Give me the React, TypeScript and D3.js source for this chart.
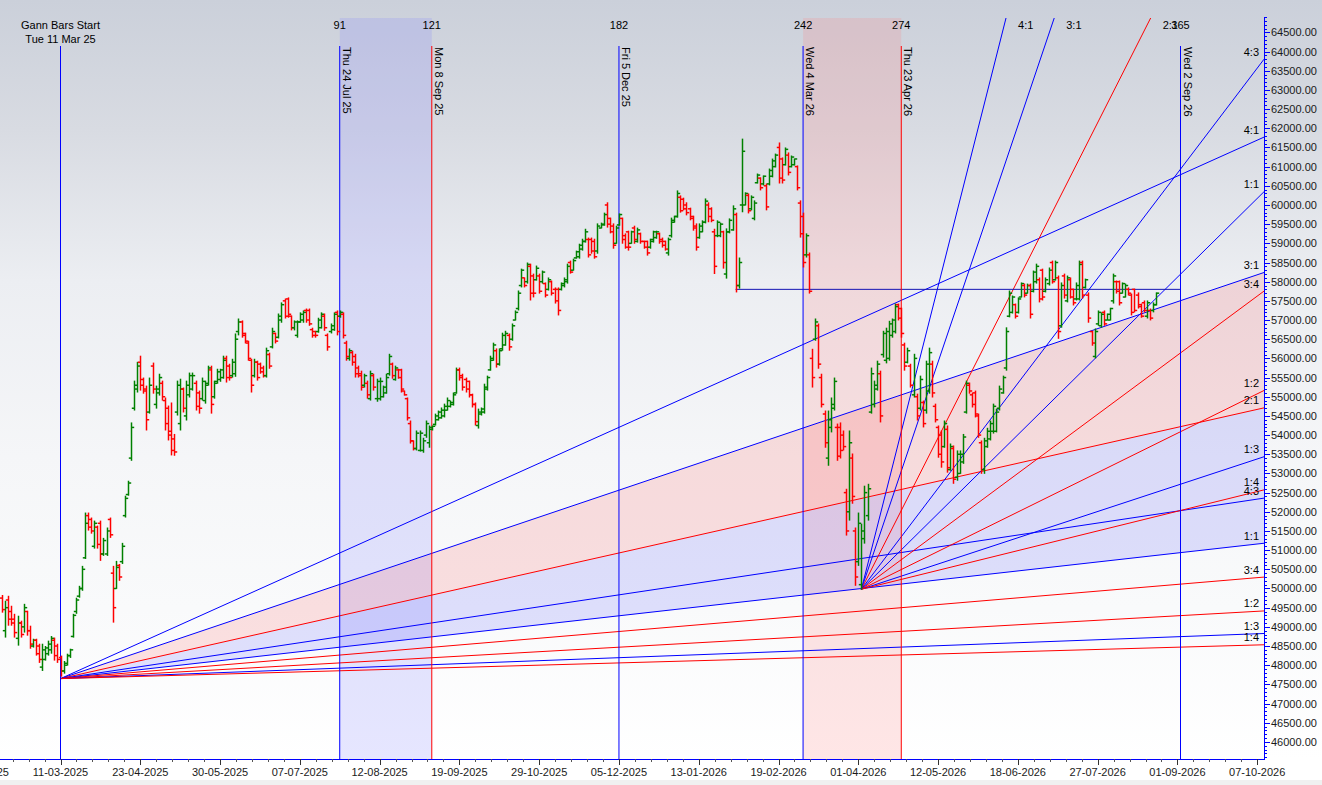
import * as d3 from 'd3'

const W = 1322
const H = 785
const PLOT = { left: 0, top: 18, right: 1264, bottom: 759 }

const BLUE = '#0000ff'
const RED = '#ff0000'
const UP = '#008000'

// daily OHLC bars [open, high, low, close]; first row is bar -19 (bar 0 = Tue 11 Mar 25)
const FIRST_BAR = -19
const bars: [number, number, number, number][] = [
  [49750, 49830, 49370, 49450], [48900, 49680, 48720, 49500], [49700, 49810, 49030, 49200], [49400, 49550, 49030, 49100],
  [49200, 49340, 48720, 48850], [48700, 49290, 48510, 49100], [49100, 49160, 48720, 48800], [49000, 49600, 48850, 49500],
  [49400, 49420, 48770, 48900], [48900, 49030, 48430, 48550], [48500, 48690, 48460, 48650], [48650, 48690, 48250, 48300],
  [48500, 48560, 48060, 48150], [47950, 48560, 47850, 48400], [48150, 48500, 48120, 48450], [48300, 48640, 48250, 48550],
  [48400, 48760, 48300, 48700], [48650, 48720, 48120, 48250], [48500, 48560, 48060, 48150],
  // bar 0
  [48200, 48250, 47700, 47850], [47850, 48110, 47780, 48000], [48050, 48300, 47990, 48250], [48250, 48430, 48190, 48400],
  [48750, 49340, 48720, 49300], [49400, 49760, 49340, 49700], [49800, 50070, 49760, 50000], [50000, 50590, 49940, 50500],
  [50800, 51980, 50770, 51700], [51900, 51980, 51510, 51600], [51800, 51850, 51430, 51500], [51100, 51770, 51040, 51700],
  [51600, 51640, 51040, 51150], [51700, 51770, 50720, 50900], [50900, 51320, 50850, 51250], [50900, 51590, 50850, 51500],
  [51800, 51850, 51320, 51400], [50400, 50590, 49110, 49500], [50000, 50720, 49990, 50550], [50600, 50640, 50200, 50300],
  [50700, 51190, 50640, 51100], [51900, 52420, 51850, 52350], [52450, 52810, 52420, 52750], [53400, 54330, 53330, 54200],
  [54700, 55420, 54640, 55300], [55200, 55910, 55110, 55800], [55900, 56070, 55160, 55300], [55450, 55500, 55080, 55150],
  [55200, 55290, 54120, 54400], [54600, 55500, 54560, 55300], [55800, 55890, 55080, 55200], [54800, 55290, 54690, 55200],
  [55100, 55600, 55030, 55500], [55350, 55420, 54900, 55000], [54900, 54980, 54120, 54300], [54700, 54770, 53860, 54000],
  [54100, 54850, 53470, 53600], [53900, 54030, 53460, 53560], [54600, 55420, 54510, 55300], [54300, 55470, 54120, 55200],
  [55200, 55240, 54590, 54700], [54500, 55420, 54380, 55300], [55050, 55630, 54980, 55550], [55200, 55630, 55160, 55550],
  [55350, 55420, 54640, 54750], [55100, 55160, 54560, 54700], [54950, 55500, 54900, 55400], [54900, 55420, 54820, 55300],
  [55350, 55810, 55290, 55750], [55700, 55810, 54560, 54800], [55000, 55420, 54950, 55350], [55400, 55730, 55340, 55650],
  [55450, 55730, 55390, 55700], [55500, 56070, 55470, 55950], [56000, 56070, 55370, 55500], [55800, 55860, 55420, 55500],
  [55550, 55990, 55500, 55900], [55600, 56650, 55520, 56500], [56700, 57040, 56600, 56950], [56950, 56990, 56540, 56600],
  [56650, 56670, 56390, 56450], [56400, 56460, 55940, 56000], [55950, 55990, 55110, 55300], [55550, 55990, 55500, 55900],
  [55900, 55940, 55420, 55500], [55850, 55890, 55600, 55650], [55750, 55810, 55500, 55550], [55550, 56280, 55500, 56200],
  [56100, 56150, 55730, 55800], [56300, 56800, 56260, 56700], [56650, 56670, 56390, 56450], [56550, 57170, 56520, 57100],
  [57000, 57460, 56930, 57400], [57500, 57560, 57040, 57100], [57550, 57590, 57060, 57150], [57100, 57120, 56730, 56800],
  [56800, 56990, 56730, 56950], [56600, 56990, 56540, 56950], [56950, 57200, 56930, 57150], [57000, 57250, 56930, 57200],
  [57250, 57300, 56930, 57000], [57250, 57300, 56850, 56900], [56750, 56800, 56540, 56600], [56700, 56720, 56540, 56600],
  [56700, 57060, 56670, 57000], [56800, 57200, 56780, 57150], [57100, 57170, 56720, 56800], [56600, 56650, 56200, 56300],
  [56700, 56910, 56650, 56850], [56750, 57200, 56720, 57150], [57200, 57250, 56600, 56700], [57100, 57250, 57060, 57200],
  [57150, 57200, 56520, 56600], [56400, 56460, 55940, 56050], [56000, 56260, 55940, 56200], [56150, 56200, 55810, 55900],
  [56050, 56120, 55500, 55600], [55750, 55810, 55500, 55550], [55600, 55680, 55160, 55250], [55300, 55600, 55240, 55550],
  [55350, 55420, 54950, 55050], [54950, 55680, 54900, 55600], [55550, 55600, 55160, 55250], [54950, 55470, 54870, 55400],
  [54950, 55500, 54900, 55400], [55000, 55290, 54980, 55250], [55100, 55600, 55080, 55500], [55600, 56120, 55550, 56050],
  [55850, 55890, 55470, 55550], [55450, 55810, 55420, 55750], [55700, 55730, 55470, 55500], [55700, 55730, 55110, 55200],
  [55150, 55160, 55030, 55050], [54950, 54980, 54380, 54450], [54300, 54380, 53780, 53850], [53850, 53860, 53600, 53650],
  [53650, 54120, 53600, 54050], [53600, 54120, 53570, 54050], [53600, 53930, 53540, 53850], [54000, 54380, 53930, 54300],
  [53800, 54250, 53670, 54200], [54150, 54250, 54120, 54230], [54280, 54560, 54250, 54500], [54400, 54640, 54380, 54600],
  [54450, 54720, 54430, 54650], [54500, 54820, 54460, 54750], [54650, 54980, 54640, 54900], [54750, 54900, 54720, 54850],
  [54800, 55110, 54770, 55050], [55100, 55760, 55080, 55700], [55700, 55760, 55420, 55500], [55550, 55600, 55160, 55250],
  [55450, 55500, 55110, 55200], [55400, 55420, 54980, 55050], [55050, 55080, 54720, 54800], [54800, 54850, 54250, 54350],
  [54250, 54690, 54170, 54600], [54550, 54720, 54510, 54680], [54600, 55340, 54560, 55250], [55200, 55550, 55160, 55500],
  [55700, 56070, 55680, 56000], [55950, 56410, 55940, 56350], [56200, 56260, 55760, 55850], [55850, 56260, 55810, 56200],
  [56250, 56670, 56200, 56600], [56350, 56720, 56330, 56650], [56600, 56650, 56200, 56300], [56500, 56910, 56460, 56850],
  [57000, 57250, 56990, 57200], [57300, 57770, 57250, 57700], [57900, 58340, 57850, 58300], [58100, 58110, 57850, 57900],
  [58000, 58500, 57950, 58450], [58400, 58470, 57510, 57700], [58150, 58210, 57590, 57700], [58050, 58420, 58030, 58350],
  [58150, 58210, 57690, 57750], [58000, 58290, 57950, 58250], [57950, 57980, 57590, 57650], [57800, 58110, 57770, 58050],
  [58000, 58030, 57640, 57700], [57800, 57850, 57430, 57500], [57800, 57850, 57120, 57250], [57800, 57980, 57770, 57950],
  [57900, 58110, 57850, 58050], [58000, 58470, 57950, 58400], [58500, 58550, 58210, 58250], [58300, 58600, 58290, 58550],
  [58620, 58810, 58600, 58780], [58650, 58990, 58600, 58950], [58850, 59120, 58810, 59050], [59050, 59380, 59020, 59300],
  [59100, 59150, 58630, 58700], [59100, 59150, 58730, 58800], [59050, 59120, 58600, 58650], [58800, 59520, 58730, 59450],
  [59400, 59540, 59390, 59500], [59480, 59800, 59460, 59750], [60000, 60070, 59410, 59500], [59650, 59670, 59260, 59300],
  [59450, 59520, 58860, 58950], [59000, 59460, 58990, 59400], [59480, 59780, 59460, 59750], [59650, 59670, 58990, 59100],
  [59200, 59260, 58860, 58900], [59300, 59330, 58810, 58900], [59000, 59330, 58990, 59300], [59400, 59460, 58990, 59100],
  [59050, 59410, 59020, 59350], [59250, 59280, 58990, 59050], [59050, 59070, 58860, 58900], [59050, 59070, 58680, 58750],
  [58900, 59120, 58860, 59100], [59050, 59330, 59020, 59300], [59150, 59330, 59120, 59300], [59250, 59280, 58990, 59050],
  [59100, 59150, 58890, 58950], [59050, 59070, 58810, 58850], [58750, 59150, 58680, 59100], [59200, 59670, 59150, 59600],
  [59550, 59720, 59540, 59700], [59700, 60380, 59670, 60300], [60200, 60250, 59800, 59850], [60150, 60190, 59860, 59900],
  [60000, 60070, 59730, 59800], [59900, 59930, 59600, 59650], [59700, 59720, 59330, 59400], [59450, 59520, 58810, 58900],
  [59150, 59520, 59120, 59450], [59300, 59600, 59290, 59550], [59550, 60170, 59520, 60100], [60000, 60070, 59550, 59700],
  [59900, 59940, 59550, 59600], [59300, 59380, 58200, 58400], [59200, 59600, 59160, 59550], [59200, 59540, 59160, 59500],
  [59300, 59330, 58340, 58500], [58200, 59390, 58080, 59300], [59300, 59650, 59260, 59600], [59350, 59990, 59330, 59900],
  [59750, 59800, 57720, 57900], [57900, 58630, 57820, 58500], [60000, 61730, 59810, 61400], [60000, 60330, 59990, 60300],
  [60250, 60300, 59780, 59850], [59900, 60250, 59860, 60200], [59650, 60120, 59600, 60050], [60580, 60820, 60560, 60780],
  [60700, 60720, 60380, 60450], [60550, 60770, 60510, 60750], [60500, 60560, 59860, 59950], [60550, 60950, 60510, 60900],
  [60750, 61210, 60720, 61150], [61000, 61340, 60980, 61300], [61500, 61630, 60560, 60700], [61200, 61240, 60560, 60650],
  [61050, 61500, 61030, 61450], [61300, 61370, 60770, 60850], [61000, 61290, 60980, 61250], [61050, 61210, 61030, 61200],
  [61000, 61030, 60380, 60450], [60050, 60120, 59150, 59250], [59700, 59800, 58370, 58500], [58700, 59260, 58630, 59200],
  [58700, 58760, 57690, 57750], [56000, 56250, 55240, 55500], [56500, 57040, 56460, 56950], [56850, 56910, 55730, 55850],
  [55500, 55600, 54720, 54800], [54550, 54640, 53670, 53800], [53400, 54640, 53200, 54400], [54200, 54980, 54070, 54800],
  [54700, 55500, 54640, 55400], [54200, 54300, 53330, 53450], [54200, 54330, 53390, 53600], [54000, 54120, 53600, 53700],
  [52500, 52600, 51380, 51500], [52000, 54120, 51770, 53800], [53400, 53520, 52210, 52400], [51500, 51590, 50070, 50300],
  [50700, 51980, 50590, 51700], [50100, 51690, 49970, 51500], [51300, 52680, 51170, 52500], [51900, 52730, 51770, 52600],
  [54600, 55760, 54560, 55600], [54800, 55420, 54720, 55300], [55200, 55940, 55160, 55850], [55600, 55680, 54330, 54500],
  [56100, 56720, 56020, 56650], [55950, 56800, 55870, 56700], [56000, 56980, 55940, 56900], [56600, 57040, 56540, 57000],
  [56700, 57430, 56650, 57350], [57400, 57430, 56990, 57050], [57300, 57320, 56540, 56650], [56350, 56410, 55680, 55800],
  [55900, 56280, 55870, 56200], [55800, 55860, 55240, 55300], [55050, 56120, 54980, 56000], [55000, 55080, 54380, 54500],
  [54700, 55550, 54640, 55450], [54850, 54900, 54200, 54300], [54650, 55940, 54560, 55850], [55150, 56280, 55080, 56150],
  [55850, 55940, 54980, 55100], [54750, 54820, 54330, 54400], [54200, 54250, 53410, 53500], [54000, 54120, 53150, 53300],
  [53700, 54380, 53670, 54300], [54150, 54250, 53020, 53150], [53100, 53780, 53070, 53700], [53650, 53730, 52730, 52850],
  [52900, 53600, 52810, 53500], [53000, 53600, 52990, 53500], [53300, 54030, 53250, 53950], [54600, 55420, 54560, 55350],
  [55300, 55370, 55080, 55150], [55050, 55110, 54720, 54800], [55100, 55160, 54460, 54550], [54500, 54560, 53930, 54000],
  [53800, 53860, 52990, 53100], [53100, 53930, 52990, 53850], [53700, 54190, 53670, 54100], [53900, 54380, 53860, 54300],
  [54100, 54820, 54040, 54750], [54100, 54690, 54070, 54600], [54700, 55290, 54640, 55200], [55100, 55550, 55080, 55500],
  [55750, 56810, 55680, 56700], [57100, 57770, 57070, 57700], [57200, 57640, 57170, 57600], [57400, 57430, 57040, 57100],
  [57200, 57590, 57170, 57550], [57600, 57980, 57590, 57950], [57900, 57950, 57590, 57650], [57700, 57950, 57690, 57900],
  [57900, 57950, 57040, 57150], [57750, 58290, 57720, 58250], [58000, 58470, 57950, 58400], [58050, 58110, 57460, 57550],
  [58300, 58340, 57510, 57600], [57750, 58110, 57720, 58050], [57950, 58370, 57900, 58300], [58500, 58550, 57950, 58000],
  [58050, 58550, 58030, 58500], [58100, 58160, 56510, 56700], [56850, 57980, 56800, 57900], [58150, 58210, 57560, 57650],
  [57500, 58160, 57460, 58100], [58050, 58110, 57560, 57600], [57800, 57820, 57380, 57450], [57550, 57980, 57510, 57900],
  [57550, 58550, 57510, 58450], [58500, 58550, 57560, 57650], [57850, 58080, 57820, 58050], [57650, 57720, 56930, 57050],
  [56700, 56720, 56330, 56400], [56050, 56780, 56000, 56700], [56900, 57250, 56850, 57200], [56850, 57200, 56800, 57150],
  [57200, 57250, 56850, 56900], [57000, 57170, 56990, 57150], [57000, 57320, 56990, 57300], [57500, 58210, 57430, 58150],
  [58000, 58030, 57690, 57750], [58000, 58030, 57380, 57450], [57700, 57980, 57690, 57950], [57600, 57950, 57590, 57900],
  [57800, 57850, 57640, 57700], [57650, 57690, 57120, 57200], [57800, 57820, 57200, 57250], [57650, 57720, 57300, 57350],
  [57400, 57430, 57060, 57100], [57450, 57510, 57200, 57250], [57100, 57510, 57040, 57450], [57250, 57300, 56990, 57050],
  [57250, 57460, 57200, 57400], [57400, 57720, 57380, 57700],
]

const priceTicks = [
  46000, 46500, 47000, 47500, 48000, 48500, 49000, 49500, 50000, 50500, 51000, 51500, 52000, 52500,
  53000, 53500, 54000, 54500, 55000, 55500, 56000, 56500, 57000, 57500, 58000, 58500, 59000, 59500,
  60000, 60500, 61000, 61500, 62000, 62500, 63000, 63500, 64000, 64500,
]

const dateTicks: [number, string][] = [
  [-26, '31-01-2025'], [0, '11-03-2025'], [26, '23-04-2025'], [52, '30-05-2025'], [78, '07-07-2025'],
  [104, '12-08-2025'], [130, '19-09-2025'], [156, '29-10-2025'], [182, '05-12-2025'], [208, '13-01-2026'],
  [234, '19-02-2026'], [260, '01-04-2026'], [286, '12-05-2026'], [312, '18-06-2026'], [338, '27-07-2026'],
  [364, '01-09-2026'], [390, '07-10-2026'],
]

// gann time counts from the start bar
const gannLines = [
  { bar: 91, label: 'Thu 24 Jul 25', color: BLUE },
  { bar: 121, label: 'Mon 8 Sep 25', color: RED },
  { bar: 182, label: 'Fri 5 Dec 25', color: BLUE },
  { bar: 242, label: 'Wed 4 Mar 26', color: BLUE },
  { bar: 274, label: 'Thu 23 Apr 26', color: RED },
  { bar: 365, label: 'Wed 2 Sep 26', color: BLUE },
]
const gannBands = [
  { from: 91, to: 121, fill: '#8080ff' },
  { from: 242, to: 274, fill: '#ff8080' },
]

const fanRatios = [
  { name: '4:1', r: 4, color: BLUE },
  { name: '3:1', r: 3, color: BLUE },
  { name: '2:1', r: 2, color: RED },
  { name: '4:3', r: 4 / 3, color: BLUE },
  { name: '1:1', r: 1, color: BLUE },
  { name: '3:4', r: 3 / 4, color: RED },
  { name: '1:2', r: 1 / 2, color: RED },
  { name: '1:3', r: 1 / 3, color: BLUE },
  { name: '1:4', r: 1 / 4, color: RED },
]
// origin bar, origin price, points per bar for 1:1
const fans = [
  { bar: 0, price: 47650, unit: 9, filled: true },
  { bar: 261, price: 49980, unit: 79, filled: false },
]

const hLine = { from: 220, to: 365, price: 57800 }

export default function App() {
  const x = d3.scaleLinear().domain([0, 365]).range([60.5, 1180.5])
  const y = d3.scaleLinear().domain([46000, 64500]).range([741.9, 32.4])
  const endBar = x.invert(PLOT.right)
  const topPrice = y.invert(PLOT.top)

  const fanGeo = fans.map((f) =>
    fanRatios.map((r) => {
      const slope = f.unit * r.r
      const endPrice = f.price + slope * (endBar - f.bar)
      const exitBar = endPrice > topPrice ? f.bar + (topPrice - f.price) / slope : endBar
      return { ...r, x0: x(f.bar), y0: y(f.price), x1: x(endBar), y1: y(endPrice), exitX: x(exitBar), clipped: endPrice > topPrice }
    })
  )

  const minorY = d3.range(45600, 64901, 100)
  const minorX = d3.range(-26, 392, 26 / 5)

  const line = d3.line()

  return (
    <svg
      width={W}
      height={H}
      style={{ position: 'absolute', left: 0, top: 0, display: 'block' }}
      fontFamily="'Liberation Sans', Arial, sans-serif"
      fontSize={11}
    >
      <defs>
        <linearGradient id="bg" x1="0" y1="0" x2="0" y2="1">
          <stop offset="0" stopColor="#cbd0da" />
          <stop offset="0.17" stopColor="#d8dbe2" />
          <stop offset="0.37" stopColor="#eceef2" />
          <stop offset="0.6" stopColor="#f5f6f8" />
          <stop offset="0.8" stopColor="#f9fafb" />
          <stop offset="1" stopColor="#ffffff" />
        </linearGradient>
        <clipPath id="plot">
          <rect x={PLOT.left} y={PLOT.top} width={PLOT.right - PLOT.left} height={PLOT.bottom - PLOT.top} />
        </clipPath>
      </defs>

      <rect x={0} y={0} width={W} height={PLOT.bottom + 1} fill="url(#bg)" />
      <rect x={0} y={PLOT.bottom + 1} width={W} height={20} fill="#ffffff" />
      <rect x={0} y={780} width={W} height={5} fill="#f0f0f0" />

      <g clipPath="url(#plot)">
        {gannBands.map((b) => (
          <rect key={b.from} x={x(b.from)} y={PLOT.top} width={x(b.to) - x(b.from)} height={PLOT.bottom - PLOT.top} fill={b.fill} opacity={0.2} />
        ))}

        {fans.map((f, i) => {
          if (!f.filled) return null
          const g = fanGeo[i]
          const byName = (n: string) => g.find((d) => d.name === n)!
          const a = byName('3:1'), b = byName('2:1'), c = byName('1:1')
          return (
            <g key={'fill' + i}>
              <path d={`M${a.x0},${a.y0}L${a.x1},${a.y1}L${b.x1},${b.y1}Z`} fill={RED} opacity={0.11} />
              <path d={`M${b.x0},${b.y0}L${b.x1},${b.y1}L${c.x1},${c.y1}Z`} fill={BLUE} opacity={0.11} />
            </g>
          )
        })}

        {fanGeo.map((g, i) =>
          g.map((d) => (
            <path key={i + d.name} d={line([[d.x0, d.y0], [d.x1, d.y1]])!} stroke={d.color} strokeWidth={1} fill="none" />
          ))
        )}

        <line x1={x(hLine.from)} x2={x(hLine.to)} y1={y(hLine.price)} y2={y(hLine.price)} stroke="#1414b4" strokeWidth={1} />

        {gannLines.map((g) => (
          <line key={g.bar} x1={x(g.bar)} x2={x(g.bar)} y1={46} y2={PLOT.bottom} stroke={g.color} strokeWidth={1} />
        ))}
        <line x1={x(0)} x2={x(0)} y1={46} y2={PLOT.bottom} stroke={BLUE} strokeWidth={1} />

        {bars.map((b, i) => {
          const [o, h, l, c] = b
          const bx = Math.round(x(FIRST_BAR + i)) + 0.5
          const col = c >= o ? UP : RED
          return (
            <g key={i} stroke={col} strokeWidth={1.5}>
              <line x1={bx} x2={bx} y1={y(h)} y2={y(l)} />
              <line x1={bx - 2.7} x2={bx} y1={y(o)} y2={y(o)} />
              <line x1={bx} x2={bx + 2.7} y1={y(c)} y2={y(c)} />
            </g>
          )
        })}
      </g>

      {/* gann labels */}
      <text x={x(0)} y={29} textAnchor="middle" fill="#000">Gann Bars Start</text>
      <text x={x(0)} y={43} textAnchor="middle" fill="#000">Tue 11 Mar 25</text>
      {gannLines.map((g) => (
        <g key={'l' + g.bar}>
          <text x={x(g.bar)} y={29} textAnchor="middle" fill="#000">{g.bar}</text>
          <text transform={`translate(${x(g.bar) + 3},${47}) rotate(90)`} fill="#000">{g.label}</text>
        </g>
      ))}

      {/* fan labels */}
      {fanGeo.map((g, i) =>
        g.map((d) =>
          d.clipped ? (
            <text key={'t' + i + d.name} x={d.exitX + 12} y={29} fill="#000">{d.name}</text>
          ) : (
            <text key={'t' + i + d.name} x={PLOT.right - 5} y={d.y1 - 3.5} textAnchor="end" fill="#000">{d.name}</text>
          )
        )
      )}

      {/* price axis */}
      <line x1={PLOT.right + 0.5} x2={PLOT.right + 0.5} y1={17} y2={PLOT.bottom + 1} stroke={BLUE} strokeWidth={1} />
      {minorY.map((v) => (
        <line key={'my' + v} x1={PLOT.right} x2={PLOT.right + 3} y1={Math.round(y(v)) + 0.5} y2={Math.round(y(v)) + 0.5} stroke={BLUE} strokeWidth={1} />
      ))}
      {priceTicks.map((v) => (
        <g key={'py' + v}>
          <line x1={PLOT.right} x2={PLOT.right + 6} y1={Math.round(y(v)) + 0.5} y2={Math.round(y(v)) + 0.5} stroke={BLUE} strokeWidth={1} />
          <text x={PLOT.right + 7} y={y(v) + 4} fill="#1a1a1a">{v.toFixed(2)}</text>
        </g>
      ))}

      {/* date axis */}
      <line x1={0} x2={PLOT.right + 1} y1={PLOT.bottom + 0.5} y2={PLOT.bottom + 0.5} stroke={BLUE} strokeWidth={1} />
      {minorX.map((v) => (
        <line key={'mx' + v} x1={Math.round(x(v)) + 0.5} x2={Math.round(x(v)) + 0.5} y1={PLOT.bottom} y2={PLOT.bottom + 3} stroke="#555" strokeWidth={1} />
      ))}
      {dateTicks.map(([b, s]) => (
        <g key={'dx' + b}>
          <line x1={Math.round(x(b)) + 0.5} x2={Math.round(x(b)) + 0.5} y1={PLOT.bottom} y2={PLOT.bottom + 6} stroke="#333" strokeWidth={1} />
          <text x={x(b)} y={776} textAnchor="middle" fill="#1a1a1a">{s}</text>
        </g>
      ))}
    </svg>
  )
}
